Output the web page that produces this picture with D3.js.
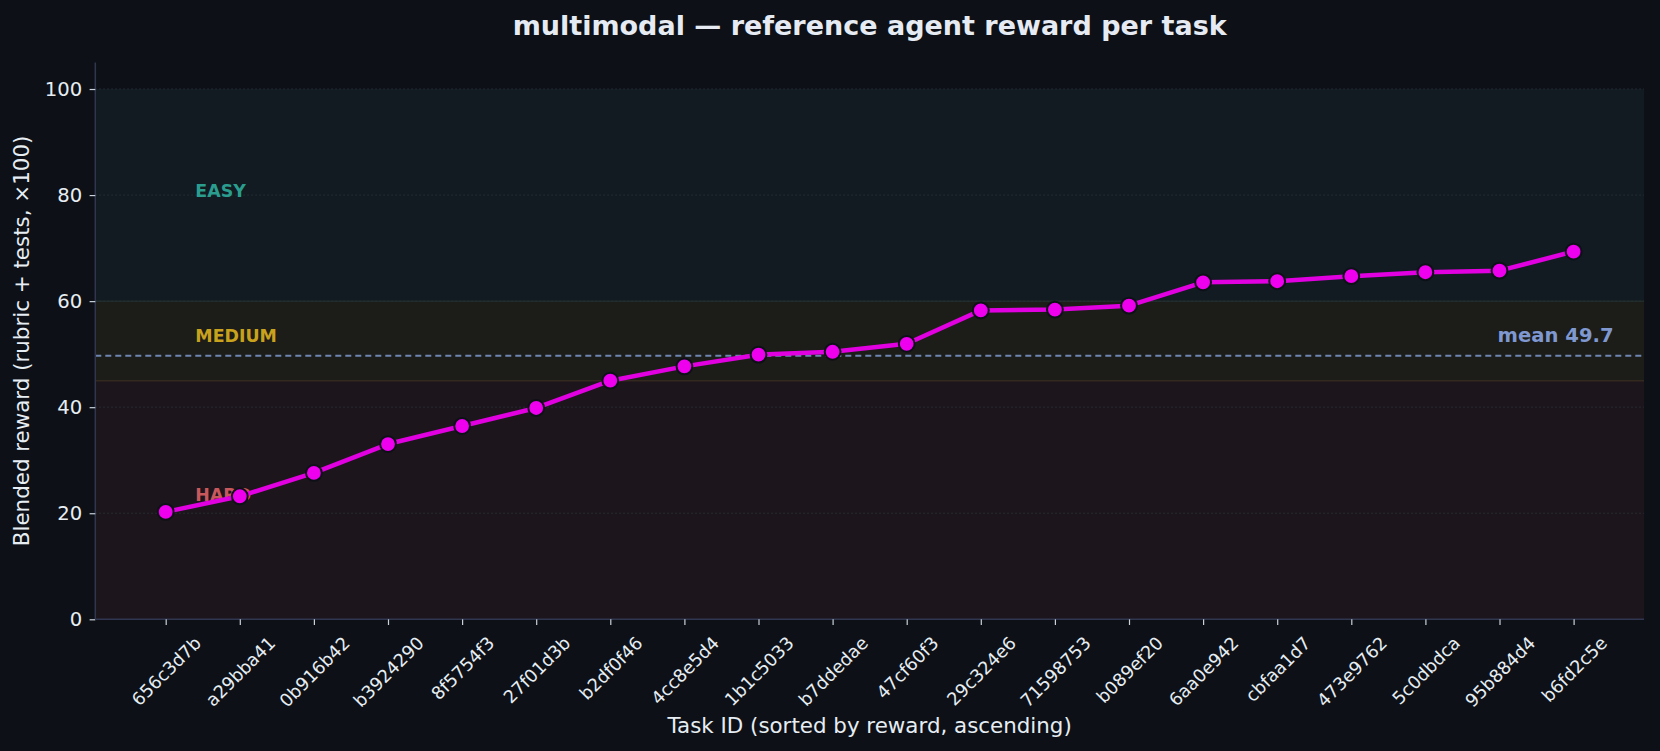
<!DOCTYPE html>
<html>
<head>
<meta charset="utf-8">
<script src="https://cdn.jsdelivr.net/npm/d3@7"></script>
<style>
  html, body { margin: 0; padding: 0; background: #0d1117; }
  svg { display: block; font-family: "DejaVu Sans", sans-serif; }
</style>
</head>
<body>
<div id="chart"></div>
<script>
// task ids, already sorted by reward (ascending)
const task_ids = ["656c3d7b", "a29bba41", "0b916b42", "b3924290", "8f5754f3",
  "27f01d3b", "b2df0f46", "4cc8e5d4", "1b1c5033", "b7ddedae", "47cf60f3",
  "29c324e6", "71598753", "b089ef20", "6aa0e942", "cbfaa1d7", "473e9762",
  "5c0dbdca", "95b884d4", "b6fd2c5e"];

const rewards = [20.25, 23.2, 27.6, 33.05, 36.45, 39.85, 45.0, 47.7, 49.9, 50.45,
  51.95, 58.25, 58.4, 59.15, 63.55, 63.75, 64.7, 65.45, 65.75, 69.35];

const mean_reward = 49.7;

const band_names = ["HARD", "MEDIUM", "EASY"];
const band_lo = [0, 45, 60];
const band_hi = [45, 60, 100];

const y_ticks = [0, 20, 40, 60, 80, 100];

const width = 1660;
const height = 751;
const margin = {top: 62.5, right: 16, bottom: 131.7, left: 95.3};

const band_fill = ["#1c151c", "#1c1c18", "#111b21"];
const band_text = ["#c9585c", "#c8a21d", "#2a9d8f"];

let svg = d3.select("#chart").append("svg")
    .attr("width", width)
    .attr("height", height);

svg.append("rect")
    .attr("width", width)
    .attr("height", height)
    .attr("fill", "#0d1117");

let x = d3.scaleLinear()
    .domain([-0.95, task_ids.length - 1 + 0.95])
    .range([margin.left, width - margin.right]);

let y = d3.scaleLinear()
    .domain([0, 105])
    .range([height - margin.bottom, margin.top]);

let plot = svg.append("g");

// difficulty bands
plot.selectAll(".band")
  .data(band_names)
  .enter().append("rect")
    .attr("class", "band")
    .attr("x", x.range()[0])
    .attr("width", x.range()[1] - x.range()[0])
    .attr("y", function(d, i) { return y(band_hi[i]); })
    .attr("height", function(d, i) { return y(band_lo[i]) - y(band_hi[i]); })
    .attr("fill", function(d, i) { return band_fill[i]; });

// thin edges between bands
plot.selectAll(".band-edge")
  .data([45, 60])
  .enter().append("line")
    .attr("x1", x.range()[0])
    .attr("x2", x.range()[1])
    .attr("y1", function(d) { return y(d); })
    .attr("y2", function(d) { return y(d); })
    .attr("stroke", function(d) { return d == 45 ? "#33291e" : "#1f2c29"; })
    .attr("stroke-width", 1.5);

// dotted grid
plot.selectAll(".grid")
  .data(y_ticks.filter(function(d) { return d > 0; }))
  .enter().append("line")
    .attr("x1", x.range()[0])
    .attr("x2", x.range()[1])
    .attr("y1", function(d) { return y(d); })
    .attr("y2", function(d) { return y(d); })
    .attr("stroke", "#2a303a")
    .attr("stroke-width", 1)
    .attr("stroke-dasharray", "1.5,2.5");

// band labels (drawn under the line, HARD is partly hidden by a marker)
plot.selectAll(".band-label")
  .data(band_names)
  .enter().append("text")
    .attr("x", x(0.4))
    .attr("y", function(d, i) { return y((band_lo[i] + band_hi[i]) / 2) + 1.5; })
    .attr("fill", function(d, i) { return band_text[i]; })
    .attr("font-size", 17.4)
    .attr("font-weight", "bold")
    .text(function(d) { return d; });

// mean line
plot.append("line")
    .attr("x1", x.range()[0])
    .attr("x2", x.range()[1])
    .attr("y1", y(mean_reward))
    .attr("y2", y(mean_reward))
    .attr("stroke", "#6f86b3")
    .attr("stroke-width", 1.8)
    .attr("stroke-dasharray", "6,4");

plot.append("text")
    .attr("x", x(task_ids.length - 1 + 0.5) + 3)
    .attr("y", y(mean_reward) - 14)
    .attr("text-anchor", "end")
    .attr("fill", "#7f98d0")
    .attr("font-size", 19.6)
    .attr("font-weight", "bold")
    .text("mean " + mean_reward.toFixed(1));

// reward line + markers
let line = d3.line()
    .x(function(d, i) { return x(i); })
    .y(function(d) { return y(d); });

plot.append("path")
    .datum(rewards)
    .attr("d", line)
    .attr("fill", "none")
    .attr("stroke", "#e000e0")
    .attr("stroke-width", 4.5)
    .attr("stroke-linejoin", "round");

plot.selectAll(".pt")
  .data(rewards)
  .enter().append("circle")
    .attr("class", "pt")
    .attr("cx", function(d, i) { return x(i); })
    .attr("cy", function(d) { return y(d); })
    .attr("r", 7.9)
    .attr("fill", "#ee00ee")
    .attr("stroke", "#0d1117")
    .attr("stroke-width", 2);

// axes
let y_axis = svg.append("g")
    .attr("transform", "translate(" + margin.left + ",0)")
    .call(d3.axisLeft(y).tickValues(y_ticks).tickSize(5.7).tickPadding(7.5));

let x_axis = svg.append("g")
    .attr("transform", "translate(0," + (height - margin.bottom) + ")")
    .call(d3.axisBottom(x)
      .tickValues(d3.range(task_ids.length))
      .tickSize(5.7)
      .tickFormat(function(d) { return task_ids[d]; }));

[y_axis, x_axis].forEach(function(ax) {
  ax.select(".domain").attr("stroke", "#30364f").attr("stroke-width", 1.5);
  ax.selectAll(".tick line").attr("stroke", "#c9d1d9").attr("stroke-width", 1.2);
  ax.selectAll(".tick text").attr("fill", "#e6edf3").attr("font-family", "DejaVu Sans");
});
// the left spine runs up to the top of the axes, no end caps
y_axis.select(".domain").attr("d", "M0," + y.range()[0] + "V" + y.range()[1]);
x_axis.select(".domain").attr("d", "M" + x.range()[0] + ",0H" + x.range()[1]);

y_axis.selectAll(".tick text").attr("font-size", 19.6);

// rotated x labels, centred on the tick like matplotlib's rotation=45
const xfs = 17.8;
x_axis.selectAll(".tick text")
    .attr("font-size", xfs)
    .attr("text-anchor", "middle")
    .attr("dominant-baseline", "central")
    .attr("dy", null)
    .each(function() {
      let w = this.getComputedTextLength();
      let h = xfs * 1.16;
      let cy = 5.7 + 7.3 + (w + h) * 0.3536;
      d3.select(this)
        .attr("y", 0)
        .attr("transform", "translate(0," + cy + ") rotate(-45)");
    });

// axis titles
svg.append("text")
    .attr("x", (x.range()[0] + x.range()[1]) / 2)
    .attr("y", 733)
    .attr("text-anchor", "middle")
    .attr("fill", "#e6edf3")
    .attr("font-size", 21.4)
    .text("Task ID (sorted by reward, ascending)");

svg.append("text")
    .attr("transform", "translate(29," + ((y.range()[0] + y.range()[1]) / 2) + ") rotate(-90)")
    .attr("text-anchor", "middle")
    .attr("fill", "#e6edf3")
    .attr("font-size", 21.4)
    .text("Blended reward (rubric + tests, \u00d7100)");

svg.append("text")
    .attr("x", (x.range()[0] + x.range()[1]) / 2)
    .attr("y", 34.5)
    .attr("text-anchor", "middle")
    .attr("fill", "#e6ebf3")
    .attr("font-size", 27)
    .attr("font-weight", "bold")
    .text("multimodal \u2014 reference agent reward per task");
</script>
</body>
</html>
